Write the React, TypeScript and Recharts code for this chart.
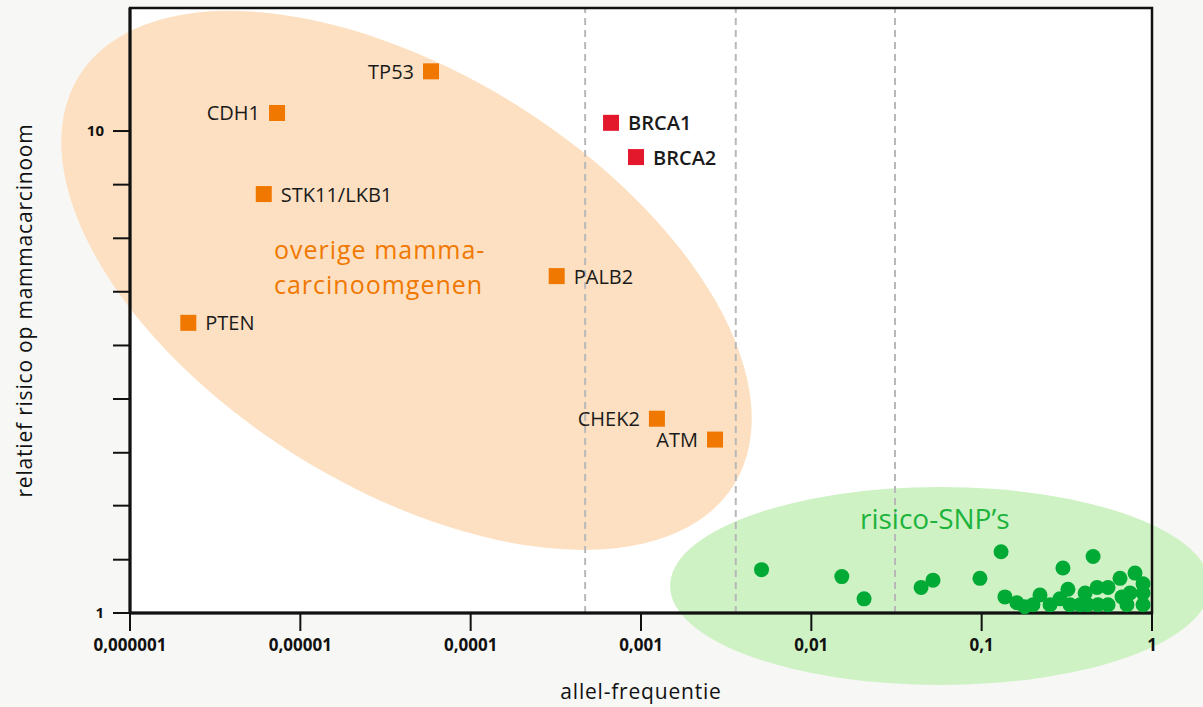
import { ScatterChart, Scatter, XAxis, YAxis, ReferenceLine, ReferenceDot, ReferenceArea, CartesianGrid, Label } from 'recharts';

const FONT = '"Open Sans", "Noto Sans", sans-serif';

// high/moderate risk genes (orange)
const GENE_NAMES = ['TP53', 'CDH1', 'STK11/LKB1', 'PTEN', 'PALB2', 'CHEK2', 'ATM'];
const GENE_FREQ = [5.85e-5, 7.3e-6, 6.1e-6, 2.2e-6, 3.2e-4, 1.24e-3, 2.72e-3];
const GENE_RISK = [13.3, 10.9, 7.4, 4.0, 5.0, 2.53, 2.29];

// BRCA genes (red)
const BRCA_NAMES = ['BRCA1', 'BRCA2'];
const BRCA_FREQ = [6.67e-4, 9.35e-4];
const BRCA_RISK = [10.4, 8.83];

// labels that sit left of their marker
const LEFT_LABELS = ['TP53', 'CDH1', 'CHEK2', 'ATM'];

// risk SNPs (green)
const SNP_FREQ = [
  0.0051, 0.0151, 0.0204, 0.0441, 0.0518, 0.0977, 0.13, 0.137, 0.161, 0.179, 0.2,
  0.22, 0.252, 0.288, 0.3, 0.321, 0.33, 0.378, 0.405, 0.42, 0.451, 0.476, 0.482,
  0.552, 0.552, 0.649, 0.667, 0.713, 0.743, 0.795, 0.886, 0.886, 0.886,
];
const SNP_RISK = [
  1.23, 1.19, 1.07, 1.13, 1.17, 1.18, 1.34, 1.08, 1.05, 1.03, 1.04,
  1.09, 1.04, 1.07, 1.24, 1.12, 1.04, 1.04, 1.1, 1.04, 1.31, 1.13, 1.04,
  1.13, 1.04, 1.18, 1.08, 1.04, 1.1, 1.21, 1.15, 1.1, 1.04,
];

const X_TICKS = [1e-6, 1e-5, 1e-4, 1e-3, 0.01, 0.1, 1];
const X_TICK_LABELS = ['0,000001', '0,00001', '0,0001', '0,001', '0,01', '0,1', '1'];
const Y_TICKS = [1, 1.29, 1.67, 2.15, 2.78, 3.59, 4.64, 5.99, 7.74, 10];
const Y_TICK_LABELS = ['1', '', '', '', '', '', '', '', '', '10'];

const DIVIDERS = [4.7e-4, 3.6e-3, 0.031];

// group areas and their captions, anchored in data units
const GENE_AREA = { x: 4.2e-5, y: 4.9 };
const SNP_AREA = { x: 0.057, y: 1.138 };
const GENE_TEXT_1 = { x: 7.0e-6, y: 5.69, text: 'overige mamma-' };
const GENE_TEXT_2 = { x: 7.0e-6, y: 4.82, text: 'carcinoomgenen' };
const SNP_TEXT = { x: 0.0193, y: 1.574, text: 'risico-SNP’s' };

const geneData = GENE_NAMES.map((name, i) => ({ name, x: GENE_FREQ[i], y: GENE_RISK[i] }));
const brcaData = BRCA_NAMES.map((name, i) => ({ name, x: BRCA_FREQ[i], y: BRCA_RISK[i] }));
const snpData = SNP_FREQ.map((x, i) => ({ x, y: SNP_RISK[i] }));

const squareShape = (color: string, weight: number) => (props: any) => {
  const { cx, cy, payload } = props;
  const left = LEFT_LABELS.includes(payload.name);
  return (
    <g>
      <rect x={cx - 8} y={cy - 8} width={16} height={16} fill={color} />
      <text
        x={left ? cx - 17 : cx + 17}
        y={cy}
        textAnchor={left ? 'end' : 'start'}
        dominantBaseline="central"
        fontFamily={FONT}
        fontSize={20}
        fontWeight={weight}
        fill="#1a1a1a"
      >
        {payload.name}
      </text>
    </g>
  );
};

const dotShape = (props: any) => <circle cx={props.cx} cy={props.cy} r={7.5} fill="#00aa35" />;

const caption = (text: string, color: string, size: number, spacing: number) => (p: any) => (
  <text
    x={p.cx}
    y={p.cy}
    fontFamily={FONT}
    fontSize={size}
    fontWeight={500}
    letterSpacing={spacing}
    fill={color}
    dominantBaseline="central"
  >
    {text}
  </text>
);

export default function App() {
  return (
    <div style={{ position: 'absolute', left: 0, top: 0, width: 1203, height: 707, background: '#f7f7f5', overflow: 'hidden' }}>
      <ScatterChart width={1203} height={707} margin={{ top: 8, right: 51, bottom: 0, left: 0 }}>
        <CartesianGrid fill="#ffffff" horizontal={false} vertical={false} />
        <ReferenceDot
          x={GENE_AREA.x}
          y={GENE_AREA.y}
          ifOverflow="visible"
          zIndex={-60}
          shape={(p: any) => (
            <ellipse cx={p.cx} cy={p.cy} rx={386} ry={207} transform={`rotate(32 ${p.cx} ${p.cy})`} fill="#fde0c1" />
          )}
        />
        <ReferenceDot
          x={SNP_AREA.x}
          y={SNP_AREA.y}
          ifOverflow="visible"
          zIndex={-60}
          shape={(p: any) => <ellipse cx={p.cx} cy={p.cy} rx={270} ry={99} fill="#cff2c5" />}
        />
        {DIVIDERS.map((d) => (
          <ReferenceLine key={d} x={d} stroke="#b8b8b8" strokeWidth={2} strokeDasharray="7 5" zIndex={-50} />
        ))}
        <ReferenceArea x1={1e-6} x2={1} y1={1} y2={18} fill="none" stroke="#111" strokeWidth={2.5} zIndex={450} />
        <XAxis
          dataKey="x"
          type="number"
          scale="log"
          domain={[1e-6, 1]}
          ticks={X_TICKS}
          interval={0}
          height={94}
          tickSize={18}
          tickMargin={8}
          tickFormatter={(v: number) => X_TICK_LABELS[X_TICKS.indexOf(v)] ?? ''}
          axisLine={{ stroke: '#111', strokeWidth: 3 }}
          tickLine={{ stroke: '#111', strokeWidth: 2 }}
          tick={{ fill: '#111', fontSize: 17, fontWeight: 700, fontFamily: FONT }}
        >
          <Label
            content={(p: any) => {
              const vb = p.viewBox;
              return (
                <text
                  x={vb.x + vb.width / 2}
                  y={vb.y + 78}
                  textAnchor="middle"
                  dominantBaseline="central"
                  fontFamily={FONT}
                  fontSize={21}
                  fontWeight={500}
                  letterSpacing={0.8}
                  fill="#111"
                >
                  allel-frequentie
                </text>
              );
            }}
          />
        </XAxis>
        <YAxis
          dataKey="y"
          type="number"
          scale="log"
          domain={[1, 18]}
          ticks={Y_TICKS}
          interval={0}
          width={130}
          tickSize={17}
          tickMargin={9}
          tickFormatter={(v: number) => Y_TICK_LABELS[Y_TICKS.indexOf(v)] ?? ''}
          axisLine={{ stroke: '#111', strokeWidth: 3 }}
          tickLine={{ stroke: '#111', strokeWidth: 2 }}
          tick={{ fill: '#111', fontSize: 15, fontWeight: 700, fontFamily: FONT }}
        >
          <Label
            content={(p: any) => {
              const vb = p.viewBox;
              const cx = vb.x + 24;
              const cy = vb.y + vb.height / 2;
              return (
                <text
                  x={cx}
                  y={cy}
                  transform={`rotate(-90 ${cx} ${cy})`}
                  textAnchor="middle"
                  dominantBaseline="central"
                  fontFamily={FONT}
                  fontSize={21}
                  fontWeight={500}
                  letterSpacing={0.8}
                  fill="#111"
                >
                  relatief risico op mammacarcinoom
                </text>
              );
            }}
          />
        </YAxis>
        <Scatter data={snpData} shape={dotShape} isAnimationActive={false} />
        <Scatter data={geneData} shape={squareShape('#f07800', 400)} isAnimationActive={false} />
        <Scatter data={brcaData} shape={squareShape('#e3182d', 600)} isAnimationActive={false} />
        {[GENE_TEXT_1, GENE_TEXT_2].map((t) => (
          <ReferenceDot
            key={t.text}
            x={t.x}
            y={t.y}
            ifOverflow="visible"
            zIndex={700}
            shape={caption(t.text, '#f07800', 25, 1)}
          />
        ))}
        <ReferenceDot
          x={SNP_TEXT.x}
          y={SNP_TEXT.y}
          ifOverflow="visible"
          zIndex={700}
          shape={caption(SNP_TEXT.text, '#1db33c', 28, 0)}
        />
      </ScatterChart>
    </div>
  );
}
